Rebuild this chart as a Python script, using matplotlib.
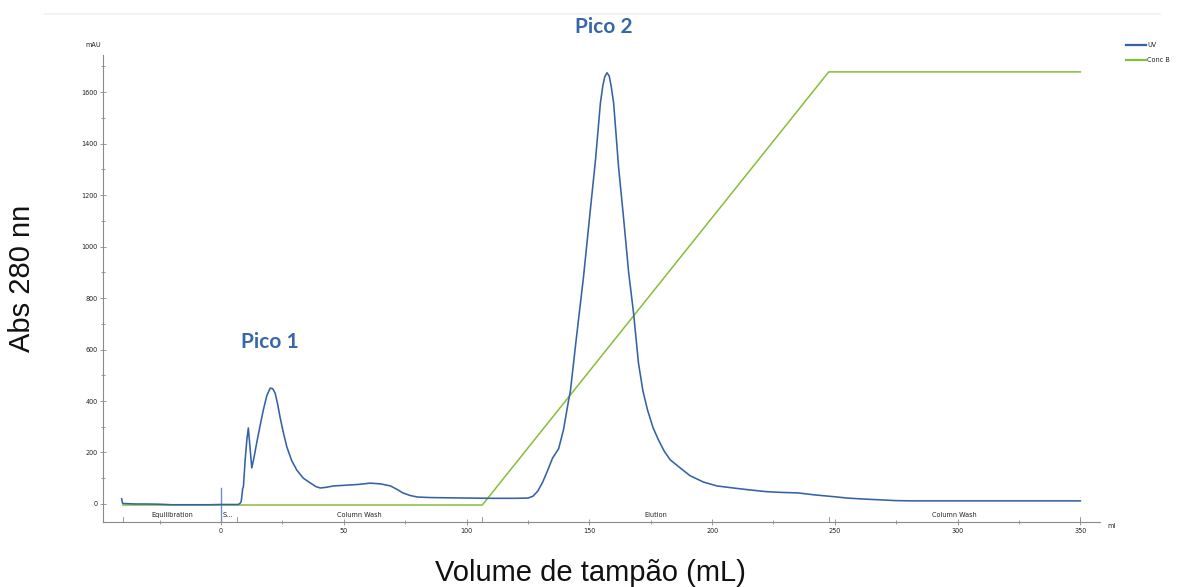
import matplotlib
matplotlib.use("Agg")
import matplotlib.pyplot as plt
from matplotlib.lines import Line2D
from matplotlib.ticker import MultipleLocator

# UV trace (mL, mAU)
uv_vol = [-40.5, -40.2, -40, -35, -30, -25, -20, -15, -10, -5, 0, 5, 7, 7.7,
          8.2, 8.8, 9.1, 9.8, 10.5, 11.1, 11.6, 12.5, 13.3, 14.5, 15.8, 17.2,
          18.6, 20, 21, 22, 23, 24, 25.3, 26.8, 28.7, 30.8, 33.5, 36.3, 38.5,
          40.4, 43, 45.7, 51, 56, 60.7, 65, 69, 72, 74, 77, 80, 85, 92, 100,
          110, 120, 125, 127, 129, 131, 133, 135, 137.5, 139.5, 141.5, 142.3,
          144.3, 146, 147.6, 150.4, 152.5, 154.5, 155.5, 156.3, 157.2, 158.1,
          158.9, 159.9, 161.9, 163.9, 166, 168, 170, 171.8, 173.7, 176, 178.2,
          180.5, 183, 187, 191, 196.5, 202, 208.7, 215, 222, 228, 235, 242,
          250, 255, 262, 268.6, 275, 282, 300, 325, 350]
uv_mau = [20, 5, 2, 0, 0, -1, -3, -3, -3, -3, -2, -2, -2, 2,
          10, 60, 67, 171, 250, 295, 240, 140, 175, 237, 300, 365,
          420, 450, 448, 431, 390, 338, 280, 221, 170, 132, 100, 82, 68,
          62, 65, 70, 73, 76, 81, 78, 70, 55, 43, 33, 27, 25, 24, 23,
          22, 22, 23, 30, 50, 85, 130, 178, 215, 290, 400, 440,
          610, 750, 880, 1142, 1336, 1557, 1625, 1660, 1675, 1662,
          1622, 1557, 1309, 1115, 900, 742, 548, 440, 365, 295, 248,
          205, 171, 140, 110, 85, 70, 62, 55, 48, 45, 43, 35,
          28, 23, 19, 16, 13, 12, 12, 12, 12]

# Conc B gradient (%)
conc_vol = [-40, 106.4, 247.5, 350]
conc_pct = [0, 0, 100, 100]

# run phases
phase_names = ["Equilibration", "S...", "Column Wash", "Elution", "Column Wash"]
phase_start = [-40, 0, 6.5, 106.4, 247.5]
phase_end = [0, 6.5, 106.4, 247.5, 350]
inject_vol = 0
inject_top = 62

UV_COLOR = "#3561a6"
CONC_COLOR = "#86bd3c"
PICO_COLOR = "#3767a8"
AX_COLOR = "#8a8a8a"
SMALL = 4.7

fig = plt.figure(figsize=(11.77, 5.87), dpi=100)
ax = fig.add_axes([103 / 1177, 1 - 522 / 587, (1100 - 103) / 1177, (522 - 55) / 587])
ax2 = ax.twinx()

ax.set_xlim(-48.1, 358)
ax.set_ylim(-70, 1744)
ax2.set_ylim(-3.92, 103.9)

ax2.plot(conc_vol, conc_pct, color=CONC_COLOR, lw=1.1, zorder=2)
ax.plot(uv_vol, uv_mau, color=UV_COLOR, lw=1.15, zorder=3)
ax.set_zorder(ax2.get_zorder() + 1)
ax.patch.set_visible(False)

# injection mark
ax.plot([inject_vol, inject_vol], [-70, inject_top], color="#6f8fc4", lw=1.0)

# phase marks and labels
marks = sorted(set(phase_start + phase_end))
for m in marks:
    ax.plot([m, m], [-70, -52], color=AX_COLOR, lw=0.6, clip_on=False)
for name, s, e in zip(phase_names, phase_start, phase_end):
    if name.startswith("S."):
        ax.text(s + 0.7, -43, name, fontsize=SMALL, ha="left", va="center", color="#222222")
    else:
        ax.text((s + e) / 2, -43, name, fontsize=SMALL, ha="center", va="center", color="#222222")

for sp in ["top", "right"]:
    ax.spines[sp].set_visible(False)
for sp in ax2.spines.values():
    sp.set_visible(False)
ax2.set_yticks([])
for sp in ["left", "bottom"]:
    ax.spines[sp].set_color(AX_COLOR)
    ax.spines[sp].set_linewidth(0.8)

ax.xaxis.set_major_locator(MultipleLocator(50))
ax.xaxis.set_minor_locator(MultipleLocator(25))
ax.yaxis.set_major_locator(MultipleLocator(200))
ax.yaxis.set_minor_locator(MultipleLocator(100))
ax.set_yticks([0, 200, 400, 600, 800, 1000, 1200, 1400, 1600])
ax.tick_params(which="both", direction="inout", color=AX_COLOR, labelsize=SMALL,
               labelcolor="#222222", pad=1.5)
ax.tick_params(which="major", length=5, width=0.6)
ax.tick_params(which="minor", length=3.5, width=0.6)

fig.text(93 / 1177, 1 - 45 / 587, "mAU", fontsize=SMALL, ha="center", va="center", color="#222222")
fig.text(1111 / 1177, 1 - 526 / 587, "ml", fontsize=SMALL, ha="center", va="center", color="#222222")

# legend
for yy, col, lab in [(45, UV_COLOR, "UV"), (60, CONC_COLOR, "Conc B")]:
    fig.add_artist(Line2D([1126 / 1177, 1146 / 1177], [1 - yy / 587] * 2, color=col, lw=1.6))
    fig.text(1147 / 1177, 1 - yy / 587, lab, fontsize=SMALL, ha="left", va="center", color="#222222")

# peak labels
ax.text(155.7, 1852, "Pico 2", fontsize=15, fontweight="bold", family="Lato",
        color=PICO_COLOR, ha="center", va="center", clip_on=False)
ax.text(20, 629, "Pico 1", fontsize=15, fontweight="bold", family="Lato",
        color=PICO_COLOR, ha="center", va="center")

fig.text(22 / 1177, 1 - 278 / 587, "Abs 280 nn", rotation=90, fontsize=21,
         family="Liberation Sans", ha="center", va="center", color="#111111")
fig.text(590 / 1177, 1 - 559 / 587, "Volume de tampão (mL)", fontsize=21,
         family="Liberation Sans", ha="center", va="top", color="#111111")

fig.add_artist(Line2D([45 / 1177, 1160 / 1177], [1 - 14 / 587] * 2, color="#f0f0f0", lw=1.2))

fig.savefig("out.png", dpi=100)
